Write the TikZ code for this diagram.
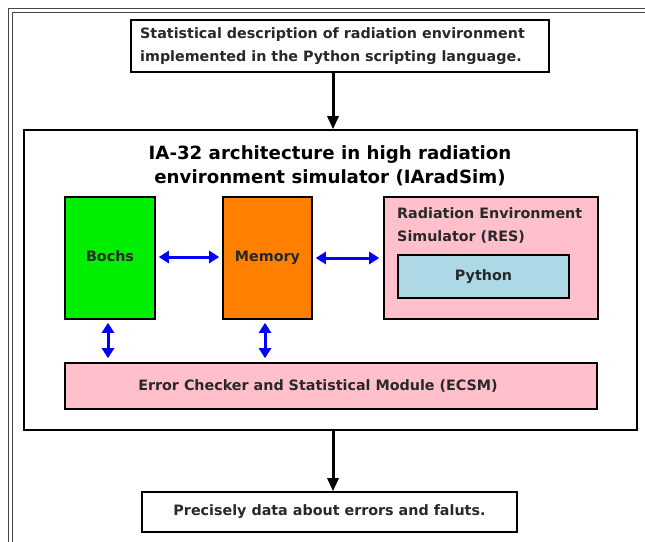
\documentclass[tikz,border=0pt]{standalone}
\usepackage{fontspec}
\setmainfont{DejaVu Sans}
\usetikzlibrary{arrows.meta}
\definecolor{cgreen}{RGB}{0,238,0}
\definecolor{corange}{RGB}{255,128,0}
\definecolor{cpink}{RGB}{255,192,203}
\definecolor{cblue}{RGB}{173,216,230}
\definecolor{cframe}{RGB}{70,70,70}
\definecolor{ctext}{RGB}{40,40,40}
\tikzset{
  box/.style={draw=black, line width=1.6pt, rectangle, inner sep=0pt, align=center, text=ctext, font=\bfseries\fontsize{14.3}{19}\selectfont},
  lbl/.style={inner sep=0pt, align=left, text=ctext, font=\bfseries\fontsize{14.3}{23}\selectfont},
  blk/.style={line width=3pt, -{Triangle[width=11pt,length=13pt]}},
  bl/.style={draw=blue, line width=3pt, {Triangle[width=12pt,length=10pt]}-{Triangle[width=12pt,length=10pt]}}
}
\begin{document}
\begin{tikzpicture}[x=1pt,y=-1pt]
\useasboundingbox (0,0) rectangle (645,541);
\fill[white] (0,0) rectangle (645,541);
% outer frame
\draw[cframe, line width=1pt] (8,560) -- (8,8) -- (660,8);
\draw[cframe, line width=1pt] (12,560) -- (12,12) -- (660,12);
% top box
\node[box, minimum width=418pt, minimum height=52pt] (top) at (340,46) {};
\node[lbl, anchor=west] (toptext) at (140,46) {Statistical description of radiation environment\\implemented in the Python scripting language.};
% big box
\node[box, minimum width=613pt, minimum height=300pt] (big) at (330.5,280) {};
\node[font=\bfseries\fontsize{18.2}{24}\selectfont, align=center] (title) at (330,166) {IA-32 architecture in high radiation\\environment simulator (IAradSim)};
% inner blocks
\node[box, fill=cgreen, minimum width=90pt, minimum height=122pt] (bochs) at (110,258) {\raisebox{3pt}{Bochs}};
\node[box, fill=corange, minimum width=89pt, minimum height=122pt] (mem) at (267.5,258) {\raisebox{3pt}{Memory}};
\node[box, fill=cpink, minimum width=214pt, minimum height=122pt] (res) at (491,258) {};
\node[lbl, anchor=north west] (restext) at (397,207.5) {Radiation Environment\\Simulator (RES)};
\node[box, fill=cblue, minimum width=171pt, minimum height=43pt] (py) at (483.5,276.5) {Python};
\node[box, fill=cpink, minimum width=532pt, minimum height=46pt] (ecsm) at (331,386) {};
\node[lbl] (ecsmtext) at (318,386) {Error Checker and Statistical Module (ECSM)};
% bottom box
\node[box, minimum width=375pt, minimum height=40pt] (bot) at (329.5,512) {Precisely data about errors and faluts.};
% connectors
\coordinate (a1) at (333,72);
\draw[blk] (a1) -- (a1 |- big.north);
\coordinate (a2) at (333,431);
\draw[blk] (a2) -- (a2 |- bot.north);
\draw[bl] ([xshift=3pt]bochs.east |- 0,257) -- ([xshift=-3pt]mem.west |- 0,257);
\draw[bl] ([xshift=3pt]mem.east |- 0,258) -- ([xshift=-4pt]res.west |- 0,258);
\draw[bl] ([yshift=-3pt]bochs.south -| 108,0) -- ([yshift=4pt]ecsm.north -| 108,0);
\draw[bl] ([yshift=-3pt]mem.south -| 265,0) -- ([yshift=4pt]ecsm.north -| 265,0);
\end{tikzpicture}
\end{document}
